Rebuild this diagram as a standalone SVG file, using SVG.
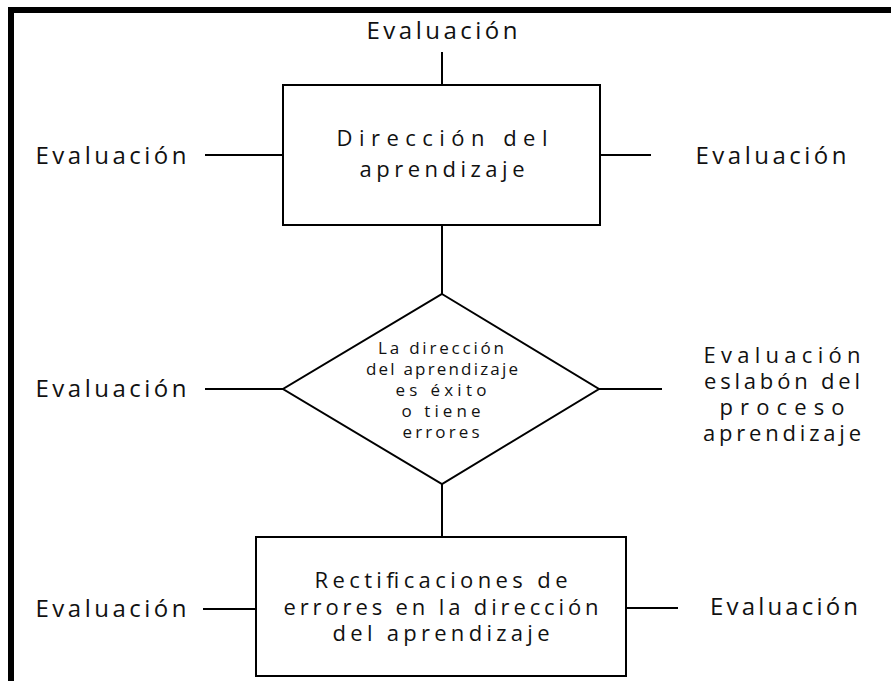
<svg xmlns="http://www.w3.org/2000/svg" width="891" height="681" viewBox="0 0 891 681">
<style>
text{font-family:"Open Sans","Noto Sans","DejaVu Sans",sans-serif;font-size:24px;fill:#111;text-anchor:middle}
.m{font-size:22px}
.s{font-size:17px}
.shape{fill:#fff;stroke:#000;stroke-width:2}
.ln{stroke:#000;stroke-width:2;fill:none}
</style>
<rect width="891" height="681" fill="#fff"/>
<g id="frame"><rect x="8" y="7" width="883" height="6" fill="#000"/><rect x="8" y="7" width="6" height="674" fill="#000"/></g>
<g id="connectors">
<line class="ln" x1="442" y1="52" x2="442" y2="85"/>
<line class="ln" x1="205" y1="155" x2="283" y2="155"/>
<line class="ln" x1="600" y1="155" x2="651" y2="155"/>
<line class="ln" x1="442" y1="225" x2="442" y2="294"/>
<line class="ln" x1="205" y1="389" x2="283" y2="389"/>
<line class="ln" x1="599" y1="389" x2="662" y2="389"/>
<line class="ln" x1="442" y1="484" x2="442" y2="537"/>
<line class="ln" x1="203" y1="609" x2="256" y2="609"/>
<line class="ln" x1="626" y1="608" x2="678" y2="608"/>
</g>
<g id="n_top"><text x="442" y="39" textLength="151" lengthAdjust="spacing">Evaluación</text></g>
<g id="n_left1"><text x="111" y="164" textLength="151" lengthAdjust="spacing">Evaluación</text></g>
<g id="n_right1"><text x="771" y="164" textLength="151" lengthAdjust="spacing">Evaluación</text></g>
<g id="n_dir">
<rect class="shape" x="283" y="85" width="317" height="140"/>
<text class="m" x="442" y="146" textLength="211" lengthAdjust="spacing">Dirección del</text>
<text class="m" x="442" y="177" textLength="165" lengthAdjust="spacing">aprendizaje</text>
</g>
<g id="n_diamond">
<polygon class="shape" points="442,294 599,389 442,484 283,389"/>
<text class="s" x="441" y="354" textLength="126" lengthAdjust="spacing">La dirección</text>
<text class="s" x="442" y="375" textLength="152" lengthAdjust="spacing">del aprendizaje</text>
<text class="s" x="441" y="396" textLength="91" lengthAdjust="spacing">es éxito</text>
<text class="s" x="441" y="417" textLength="79" lengthAdjust="spacing">o tiene</text>
<text class="s" x="441" y="438" textLength="77" lengthAdjust="spacing">errores</text>
</g>
<g id="n_left2"><text x="111" y="397" textLength="151" lengthAdjust="spacing">Evaluación</text></g>
<g id="n_right2">
<text class="m" x="782" y="363" textLength="157" lengthAdjust="spacing">Evaluación</text>
<text class="m" x="782" y="389" textLength="156" lengthAdjust="spacing">eslabón del</text>
<text class="m" x="782" y="415" textLength="125" lengthAdjust="spacing">proceso</text>
<text class="m" x="782" y="441" textLength="158" lengthAdjust="spacing">aprendizaje</text>
</g>
<g id="n_rect">
<rect class="shape" x="256" y="537" width="370" height="139"/>
<text class="m" x="441" y="588" textLength="253" lengthAdjust="spacing">Rectificaciones de</text>
<text class="m" x="441" y="615" textLength="315" lengthAdjust="spacing">errores en la dirección</text>
<text class="m" x="441" y="641" textLength="217" lengthAdjust="spacing">del aprendizaje</text>
</g>
<g id="n_left3"><text x="111" y="617" textLength="151" lengthAdjust="spacing">Evaluación</text></g>
<g id="n_right3"><text x="784" y="615" textLength="148" lengthAdjust="spacing">Evaluación</text></g>
</svg>
